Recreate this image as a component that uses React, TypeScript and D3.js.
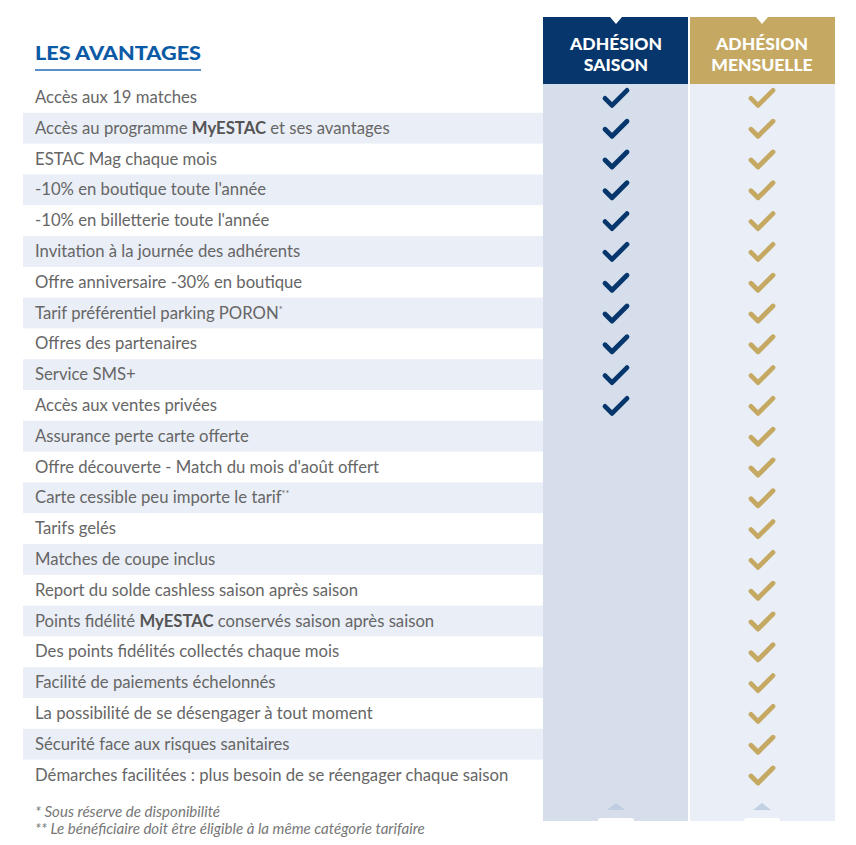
import React from "react";
import * as d3 from "d3";

const features: string[][] = [
  ["Accès aux 19 matches"],
  ["Accès au programme ", "*MyESTAC", " et ses avantages"],
  ["ESTAC Mag chaque mois"],
  ["-10% en boutique toute l'année"],
  ["-10% en billetterie toute l'année"],
  ["Invitation à la journée des adhérents"],
  ["Offre anniversaire -30% en boutique"],
  ["Tarif préférentiel parking PORON", "^*"],
  ["Offres des partenaires"],
  ["Service SMS+"],
  ["Accès aux ventes privées"],
  ["Assurance perte carte offerte"],
  ["Offre découverte - Match du mois d'août offert"],
  ["Carte cessible peu importe le tarif", "^**"],
  ["Tarifs gelés"],
  ["Matches de coupe inclus"],
  ["Report du solde cashless saison après saison"],
  ["Points fidélité ", "*MyESTAC", " conservés saison après saison"],
  ["Des points fidélités collectés chaque mois"],
  ["Facilité de paiements échelonnés"],
  ["La possibilité de se désengager à tout moment"],
  ["Sécurité face aux risques sanitaires"],
  ["Démarches facilitées : plus besoin de se réengager chaque saison"],
];

const saisonChecks: number[] = [1,1,1,1,1,1,1,1,1,1,1,0,0,0,0,0,0,0,0,0,0,0,0];
const mensuelChecks: number[] = [1,1,1,1,1,1,1,1,1,1,1,1,1,1,1,1,1,1,1,1,1,1,1];

const columns = ["saison", "mensuel"];
const columnTitles: string[][] = [["ADHÉSION", "SAISON"], ["ADHÉSION", "MENSUELLE"]];
const footnotes = ["* Sous réserve de disponibilité", "** Le bénéficiaire doit être éligible à la même catégorie tarifaire"];

const NAVY = "#06366c";
const GOLD = "#c5a963";
const FONT = "Lato, 'Open Sans', sans-serif";

export default function App() {
  const W = 856, H = 845;
  const rowsTop = 82, rowH = 30.8;
  const y = d3.scaleBand<number>().domain(d3.range(features.length)).range([rowsTop, rowsTop + rowH * features.length]).padding(0);
  const x = d3.scaleBand<string>().domain(columns).range([543, 835]).padding(0);
  const colFill = ["#d5deea", "#eaeef6"];
  const headFill = [NAVY, GOLD];
  const checkColor = [NAVY, GOLD];
  const checks = [saisonChecks, mensuelChecks];
  const colBottom = 821;
  const checkPath = "M-11,1 L-4,8 L11,-7";

  return (
    <svg width={W} height={H} style={{ position: "absolute", left: 0, top: 0, background: "#fff" }}>
      {/* title */}
      <text x={35} y={60} fontFamily={FONT} fontWeight={900} fontSize={19} fill="#0b5aa6" textLength={166} lengthAdjust="spacingAndGlyphs">LES AVANTAGES</text>
      <rect x={35} y={69} width={166} height={2} fill="#5c8ec6" />

      {/* row stripes */}
      {features.map((_, i) => i % 2 === 1 ? (
        <rect key={"s" + i} x={23} y={y(i)!} width={x("saison")! - 23} height={y.bandwidth()} fill="#eaeef6" />
      ) : null)}

      {/* column backgrounds */}
      {columns.map((c, ci) => (
        <g key={c}>
          <rect x={x(c)! + (ci === 1 ? 1 : 0)} y={rowsTop} width={x.bandwidth() - 1} height={colBottom - rowsTop} fill={colFill[ci]} />
          <rect x={x(c)! + (ci === 1 ? 1 : 0)} y={17} width={x.bandwidth() - 1} height={rowsTop + 2 - 17} fill={headFill[ci]} />
          <path d={`M${x(c)! + x.bandwidth() / 2 - 6},17 L${x(c)! + x.bandwidth() / 2 + 6},17 L${x(c)! + x.bandwidth() / 2},24 Z`} fill="#fff" />
          {columnTitles[ci].map((t, k) => (
            <text key={k} x={x(c)! + x.bandwidth() / 2} y={49.5 + k * 21.5} textAnchor="middle" fontFamily={FONT} fontWeight={900} fontSize={17.5} fill="#fff">{t}</text>
          ))}
          <path d={`M${x(c)! + x.bandwidth() / 2 - 9},810 L${x(c)! + x.bandwidth() / 2 + 9},810 L${x(c)! + x.bandwidth() / 2},803 Z`} fill="#b8c8e0" opacity={0.8} />
          <rect x={x(c)! + x.bandwidth() / 2 - 18} y={818} width={36} height={6} rx={3} fill="#fff" />
          {checks[ci].map((v, i) => v ? (
            <path key={i} d={checkPath} transform={`translate(${x(c)! + x.bandwidth() / 2},${y(i)! + y.bandwidth() / 2})`} fill="none" stroke={checkColor[ci]} strokeWidth={4.8} strokeLinecap="round" strokeLinejoin="round" />
          ) : null)}
        </g>
      ))}

      {/* feature labels */}
      {features.map((parts, i) => (
        <text key={"t" + i} x={35} y={y(i)! + y.bandwidth() / 2 + 5.5} fontFamily={FONT} fontSize={16.7} fill="#666">
          {parts.map((p, k) => p.startsWith("*") ? (
            <tspan key={k} fontWeight={700} fill="#555">{p.slice(1)}</tspan>
          ) : p.startsWith("^") ? (
            <tspan key={k} fontSize={9} dy={-6}>{p.slice(1)}</tspan>
          ) : (
            <tspan key={k}>{p}</tspan>
          ))}
        </text>
      ))}

      {/* footnotes */}
      {footnotes.map((f, i) => (
        <text key={"f" + i} x={35} y={816.5 + i * 17} fontFamily={FONT} fontStyle="italic" fontSize={15.1} fill="#777">{f}</text>
      ))}
    </svg>
  );
}
